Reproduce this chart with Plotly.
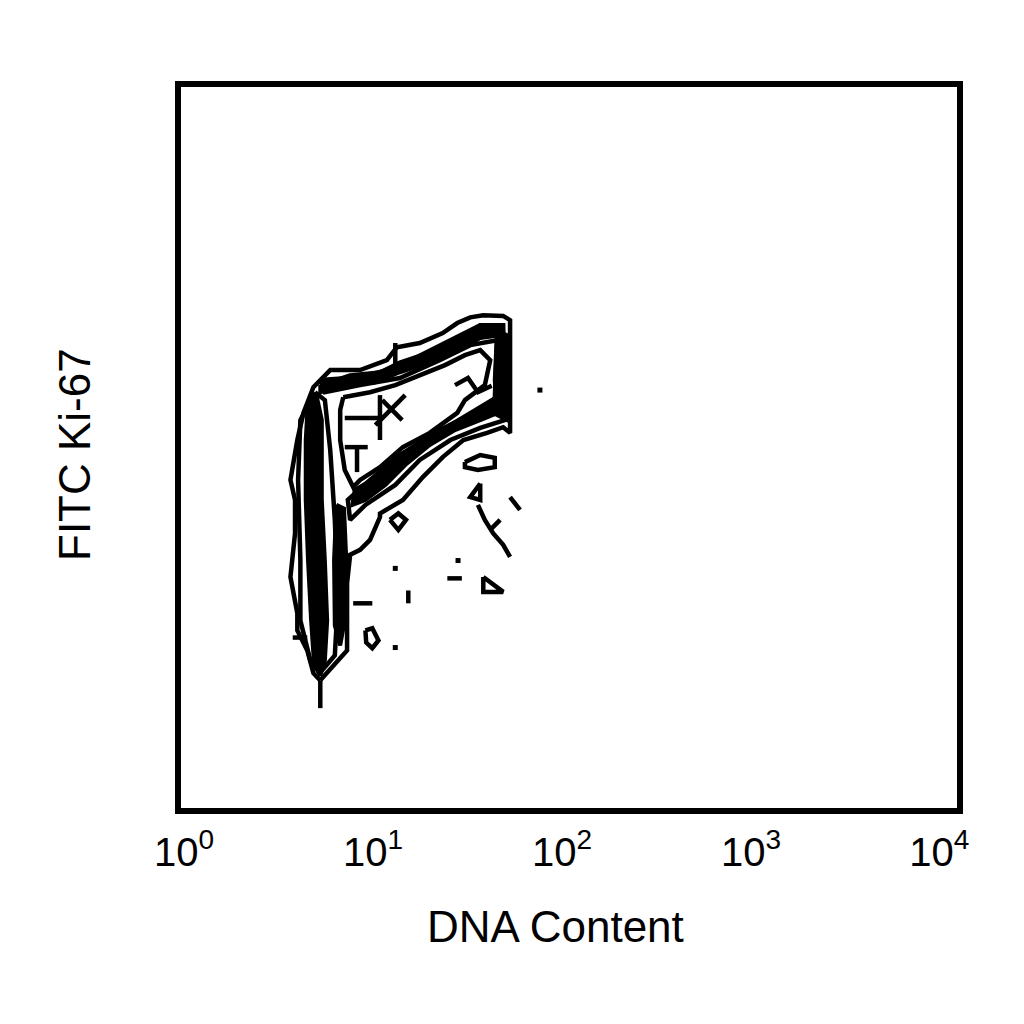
import plotly.graph_objects as go

# Flow cytometry channels (0-1023 over 4 log decades)
tick_channels = [9, 256, 503, 750, 996]
tick_labels = ["10<sup>0</sup>", "10<sup>1</sup>", "10<sup>2</sup>", "10<sup>3</sup>", "10<sup>4</sup>"]
x_title = "DNA Content"
y_title = "FITC Ki-67"

# Outer contour (DNA content channel, Ki-67 channel)
outer_dna = [187, 178, 170, 157, 157, 151, 148, 154, 154, 148, 157, 165, 178, 200, 239, 274, 287, 317, 347, 366,
             383, 400, 426, 435, 435, 426, 405, 374, 347, 321, 295, 265, 265, 252, 239, 226, 222, 222, 196, 187]
outer_ki67 = [185, 195, 227, 255, 279, 311, 330, 391, 438, 466, 522, 560, 596, 620, 620, 634, 652, 658, 672, 686,
              694, 697, 696, 690, 532, 540, 532, 522, 498, 470, 438, 419, 414, 382, 368, 361, 321, 227, 195, 185]
tail_dna = [187, 187]
tail_ki67 = [185, 146]

# Intermediate contours
mid_left_dna = [180, 161, 158, 161, 161, 174, 187, 206, 210, 206, 200, 193, 180]
mid_left_ki67 = [589, 550, 466, 353, 269, 213, 196, 220, 297, 410, 508, 578, 589]
mid_top_dna = [187, 239, 285, 343, 396, 426, 428, 396, 357, 317, 285, 246, 226, 223, 252, 291, 343, 383, 415,
               418, 383, 343, 291, 239, 193, 187]
mid_top_ki67 = [606, 610, 623, 655, 683, 683, 550, 539, 522, 494, 459, 431, 410, 438, 466, 501, 536, 557, 578,
                662, 655, 634, 609, 599, 589, 606]

# Inner contour around the low-density hollow
hole_dna = [217, 252, 285, 317, 350, 376, 396, 409, 402, 376, 366, 330, 295, 265, 239, 230, 219, 213, 213, 217]
hole_ki67 = [582, 589, 599, 613, 627, 641, 648, 634, 599, 578, 560, 532, 512, 484, 466, 456, 480, 522, 564, 582]

# Dense cores
g1_dna = [171, 182, 189, 189, 193, 196, 193, 187, 179, 175, 171, 168, 168, 171]
g1_ki67 = [578, 585, 550, 438, 353, 269, 213, 192, 206, 269, 353, 438, 522, 578]
g1b_dna = [208, 218, 221, 219, 213, 206, 205, 208]
g1b_ki67 = [431, 426, 353, 269, 234, 262, 353, 431]
top_dna = [187, 226, 265, 291, 330, 363, 396, 422, 422, 396, 363, 330, 291, 259, 219, 187, 187]
top_ki67 = [599, 613, 617, 631, 645, 662, 683, 683, 669, 665, 645, 631, 617, 603, 599, 589, 599]
diag_dna = [422, 428, 396, 363, 330, 298, 272, 246, 229, 232, 259, 291, 324, 357, 389, 422]
diag_ki67 = [585, 564, 550, 536, 515, 487, 459, 438, 431, 452, 469, 501, 522, 543, 564, 585]
g2m_dna = [418, 431, 431, 418, 415, 418]
g2m_ki67 = [676, 669, 550, 557, 606, 676]

# Small isolated contours / fragments
frag_dna = [
    [396, 383, 396, 396],
    [393, 402, 413, 426, 435],
    [409, 422],
    [435, 448],
    [353, 372],
    [400, 400, 426, 400],
    [302, 302],
    [246, 255, 263, 255, 247, 246],
    [230, 255],
    [278, 289, 299, 289, 278],
    [376, 396, 415, 415, 393, 376, 376],
    [285, 285],
    [219, 249],
    [235, 235],
    [265, 265],
    [219, 263],
    [151, 170],
    [259, 298],
    [268, 294],
    [363, 380, 393, 411],
]
frag_ki67 = [
    [461, 442, 438, 461],
    [431, 410, 391, 375, 358],
    [396, 410],
    [442, 424],
    [328, 328],
    [330, 309, 309, 330],
    [311, 293],
    [255, 258, 241, 230, 238, 255],
    [293, 293],
    [410, 419, 410, 396, 410],
    [491, 501, 497, 484, 480, 484, 491],
    [658, 624],
    [512, 512],
    [512, 477],
    [585, 522],
    [553, 553],
    [245, 245],
    [543, 585],
    [578, 550],
    [599, 609, 589, 598],
]
dot_dna = [474, 367, 285, 285]
dot_ki67 = [592, 353, 342, 231]

fig = go.Figure()
line = dict(color="black", width=4.5)

for xs, ys in [(outer_dna, outer_ki67), (tail_dna, tail_ki67), (mid_left_dna, mid_left_ki67),
               (mid_top_dna, mid_top_ki67), (hole_dna, hole_ki67)]:
    fig.add_trace(go.Scatter(x=xs, y=ys, mode="lines", line=line))
for xs, ys in [(g1_dna, g1_ki67), (g1b_dna, g1b_ki67), (g2m_dna, g2m_ki67),
               (top_dna, top_ki67), (diag_dna, diag_ki67)]:
    fig.add_trace(go.Scatter(x=xs, y=ys, mode="lines", line=dict(color="black", width=4),
                             fill="toself", fillcolor="black"))
for xs, ys in zip(frag_dna, frag_ki67):
    fig.add_trace(go.Scatter(x=xs, y=ys, mode="lines", line=line))
fig.add_trace(go.Scatter(x=dot_dna, y=dot_ki67, mode="markers",
                         marker=dict(symbol="square", size=5, color="black")))

font_family = "Liberation Sans, Arial, sans-serif"
fig.update_layout(
    width=1024, height=1024,
    margin=dict(l=173, r=75, t=79, b=224),
    paper_bgcolor="white", plot_bgcolor="white",
    showlegend=False,
    font=dict(family=font_family, color="black"),
    xaxis=dict(
        range=[5, 1019], showgrid=False, zeroline=False,
        showline=True, linecolor="black", linewidth=6, mirror=True,
        ticks="", tickvals=tick_channels, ticktext=tick_labels, ticklabelstandoff=4,
        tickfont=dict(size=40, family=font_family, color="black"),
    ),
    yaxis=dict(
        range=[6, 1017], showgrid=False, zeroline=False,
        showline=True, linecolor="black", linewidth=6, mirror=True,
        ticks="", showticklabels=False,
    ),
    annotations=[
        dict(text=x_title, xref="paper", yref="paper", x=0.483, y=-0.165,
             xanchor="center", yanchor="middle", showarrow=False,
             font=dict(size=44, family=font_family, color="black")),
        dict(text=y_title, xref="paper", yref="paper", x=-0.1366, y=0.491,
             xanchor="center", yanchor="middle", showarrow=False, textangle=-90,
             font=dict(size=44, family=font_family, color="black")),
    ],
)

fig.write_html("out.html")
